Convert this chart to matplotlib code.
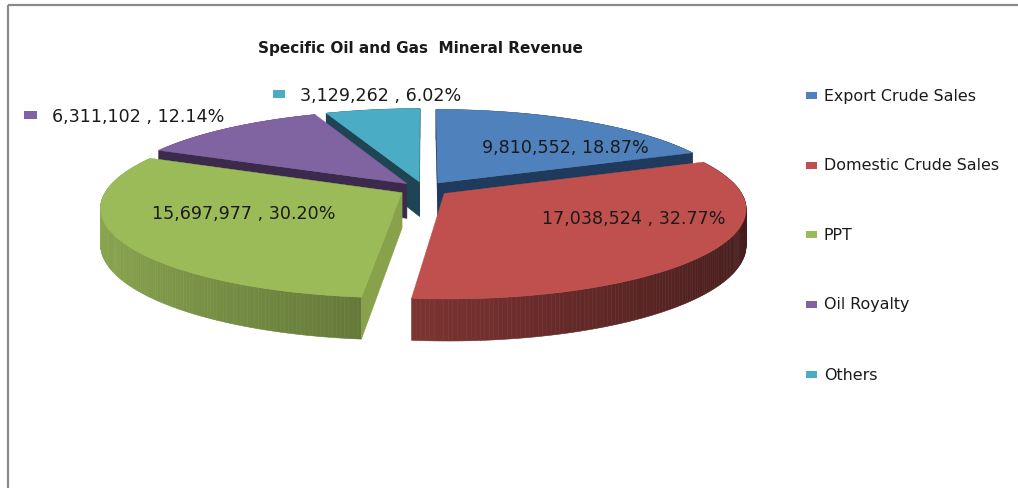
import numpy as np
import matplotlib
matplotlib.use("Agg")
import matplotlib.pyplot as plt
from matplotlib.patches import Polygon, Rectangle

# Revenue by stream
categories = ["Export Crude Sales", "Domestic Crude Sales", "PPT", "Oil Royalty", "Others"]
revenue = [9810552, 17038524, 15697977, 6311102, 3129262]
shares = ["18.87%", "32.77%", "30.20%", "12.14%", "6.02%"]
colors = ["#4f81bd", "#c0504d", "#9bbb59", "#8064a2", "#4bacc6"]
side_colors = ["#1f3a5c", "#6b2c2c", "#87a24a", "#3c2a4d", "#1f4555"]
title = "Specific Oil and Gas  Mineral Revenue"

# Projection of the tilted, exploded pie onto the page (pixel units)
CX, CY = 424, 190
RX, RY = 295, 87
PERSP = 0.16
DEPTH = 35
EXPLODE = 0.085


def project(x, y, z=0.0):
    w = 1 - PERSP * y
    return CX + RX * x / w, CY + RY * y / w + z / w


def ring(theta, ox, oy, z=0.0):
    return project(np.sin(theta) + ox, -np.cos(theta) + oy, z)


def face_visible(apex, rim, inside):
    """A cut face shows when the slice's top lies above its edge on the page."""
    ex, ey = rim[0] - apex[0], rim[1] - apex[1]
    ix, iy = inside[0] - apex[0], inside[1] - apex[1]
    side_inside = ex * iy - ey * ix
    side_down = ex * DEPTH
    return side_inside * side_down < 0


fig = plt.figure(figsize=(10.18, 4.89), dpi=100)
ax = fig.add_axes([0, 0, 1, 1])
ax.set_xlim(0, 1018)
ax.set_ylim(489, 0)
ax.axis("off")

# Chart-area border
ax.add_patch(Rectangle((8, 6), 1200, 900, fill=False, ec="#8a8a8a", lw=1.6))

fractions = np.array(revenue) / sum(revenue)
edges = np.concatenate([[0], np.cumsum(fractions)]) * 2 * np.pi

# Back slices first so the nearer ones overlap them
for layer, i in enumerate([4, 0, 3, 2, 1]):
    z = 2 + layer
    a0, a1 = edges[i], edges[i + 1]
    mid = (a0 + a1) / 2
    ox, oy = EXPLODE * np.sin(mid), -EXPLODE * np.cos(mid)
    theta = np.linspace(a0, a1, 160)
    apex = project(ox, oy)
    apex_low = project(ox, oy, DEPTH)
    inside = project(ox + 0.5 * np.sin(mid), oy - 0.5 * np.cos(mid))

    # Curved outer wall, shaded from light on the left to dark on the right
    base = np.array(matplotlib.colors.to_rgb(colors[i]))
    for t0, t1 in zip(theta[:-1], theta[1:]):
        shade = 0.62 - 0.27 * np.sin((t0 + t1) / 2)
        c = tuple(base * shade)
        quad = [ring(t0, ox, oy), ring(t1, ox, oy),
                ring(t1, ox, oy, DEPTH), ring(t0, ox, oy, DEPTH)]
        ax.add_patch(Polygon(quad, fc=c, ec=c, lw=0.4, zorder=z))

    # Cut faces turned towards the viewer
    for a in (a0, a1):
        p_top = ring(a, ox, oy)
        p_low = ring(a, ox, oy, DEPTH)
        if face_visible(apex, p_top, inside):
            ax.add_patch(Polygon([apex, p_top, p_low, apex_low], fc=side_colors[i],
                                 ec=side_colors[i], lw=0.4, zorder=z))

    # Top surface
    xs, ys = ring(theta, ox, oy)
    top = np.vstack([[apex], np.column_stack([xs, ys])])
    ax.add_patch(Polygon(top, fc=colors[i], ec=colors[i], lw=0.3, zorder=z))

text_kw = dict(family="DejaVu Sans", color="#1a1a1a", va="center", zorder=10)

ax.text(420, 48, title, ha="center", fontsize=11, fontweight="bold", **text_kw)

# Data labels
labels = [f"{v:,}, {s}" if i == 0 else f"{v:,} , {s}"
          for i, (v, s) in enumerate(zip(revenue, shares))]
label_xy = [(565, 148), (634, 219), (244, 214), (138, 117), (381, 96)]
for text, (x, y) in zip(labels, label_xy):
    ax.text(x, y, text, ha="center", fontsize=12.6, **text_kw)

# Swatches beside the two labels outside the pie
ax.add_patch(Rectangle((24, 112), 13, 8, fc=colors[3], ec="none", zorder=10))
ax.add_patch(Rectangle((273, 91), 12, 8, fc=colors[4], ec="none", zorder=10))

# Legend
legend_y = [96, 166, 235, 305, 375]
for name, c, y in zip(categories, colors, legend_y):
    ax.add_patch(Rectangle((806, y - 3.5), 11, 7, fc=c, ec="none"))
    ax.text(824, y, name, ha="left", fontsize=11.4, **text_kw)

fig.savefig("out.png", dpi=100)
